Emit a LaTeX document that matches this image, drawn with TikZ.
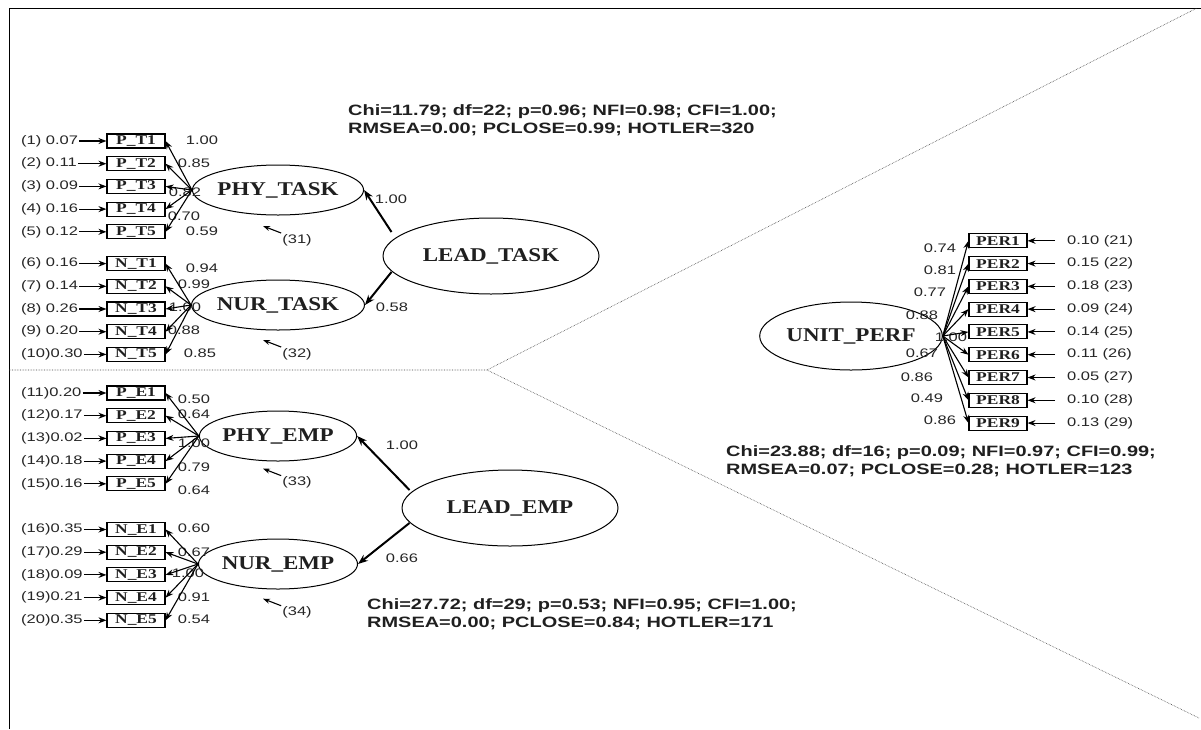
\documentclass[tikz,border=0pt]{standalone}
\usepackage{fontspec}
\usetikzlibrary{arrows.meta,shapes.geometric}
\newfontfamily\sfw[FakeStretch=1.33]{Liberation Sans}
\newfontfamily\sfwb[FakeStretch=1.33]{Liberation Sans Bold}
\newfontfamily\srw[FakeStretch=1.18]{Liberation Serif Bold}
\newfontfamily\srbox[FakeStretch=1.3]{Liberation Serif Bold}
\begin{document}
\begin{tikzpicture}[x=1pt,y=-1pt,
  lat/.style={ellipse,draw,line width=1pt,inner sep=0pt,font=\srw\fontsize{19.5}{21}\selectfont,text=black!88},
  small/.style={lat,minimum width=150pt,minimum height=50pt},
  big/.style={lat,minimum width=216pt,minimum height=76pt},
  obs/.style={draw,line width=1.1pt,minimum width=58pt,minimum height=14pt,inner sep=0pt,font=\srbox\fontsize{13.4}{14}\selectfont,text=black!88},
  lab/.style={font=\sfw\fontsize{12.4}{14}\selectfont,inner sep=1pt,text=black!85},
  fitt/.style={font=\sfwb\fontsize{15}{18.5}\selectfont,align=left,inner sep=0pt,text=black!88},
  ind/.style={-{Stealth[length=8pt,width=6pt]},line width=1.1pt},
  res/.style={-{Stealth[length=7pt,width=5pt]},line width=1.1pt},
  str/.style={-{Stealth[length=10pt,width=7.5pt]},line width=2pt},
  frame/.style={line width=1pt},
  sep/.style={densely dotted,line width=0.6pt,black!75}
]
\useasboundingbox (0,0) rectangle (1201,729);

% frame and separators
\coordinate (f1) at (9,729);
\coordinate (f2) at (9,8);
\coordinate (f3) at (1201,8);
\draw[frame] (f1) -- (f2) -- (f3);
\coordinate (m) at (487,370);
\coordinate (sl) at (9,370);
\coordinate (su) at (1197,8);
\coordinate (sd) at (1199,718);
\draw[sep] (sl) -- (m) -- (su);
\draw[sep] (m) -- (sd);

% latent variables
\node[small] (PT) at (278,190) {PHY\_TASK};
\node[small] (NT) at (278,305) {NUR\_TASK};
\node[small] (PE) at (278,436) {PHY\_EMP};
\node[small] (NE) at (278,564) {NUR\_EMP};
\node[big] (LT) at (491,256) {LEAD\_TASK};
\node[big] (LE) at (510,508) {LEAD\_EMP};
\node[lat,minimum width=164pt,minimum height=68pt] (UP) at (851,336) {UNIT\_PERF};

% left indicators
\foreach \nm/\txt/\y/\err in {
 pt1/P\_T1/141/{(1) 0.07}, pt2/P\_T2/163.7/{(2) 0.11}, pt3/P\_T3/186.4/{(3) 0.09},
 pt4/P\_T4/209.1/{(4) 0.16}, pt5/P\_T5/231.8/{(5) 0.12},
 nt1/N\_T1/263.6/{(6) 0.16}, nt2/N\_T2/286.3/{(7) 0.14}, nt3/N\_T3/309/{(8) 0.26},
 nt4/N\_T4/331.7/{(9) 0.20}, nt5/N\_T5/354.4/{(10)0.30},
 pe1/P\_E1/393/{(11)0.20}, pe2/P\_E2/415.7/{(12)0.17}, pe3/P\_E3/438.4/{(13)0.02},
 pe4/P\_E4/461.1/{(14)0.18}, pe5/P\_E5/483.8/{(15)0.16},
 ne1/N\_E1/529.5/{(16)0.35}, ne2/N\_E2/552.2/{(17)0.29}, ne3/N\_E3/574.9/{(18)0.09},
 ne4/N\_E4/597.6/{(19)0.21}, ne5/N\_E5/620.3/{(20)0.35}}
{
  \node[obs] (\nm) at (136,\y) {\txt};
  \node[lab,anchor=west] (e\nm) at (20,\y) {\err};
  \draw[ind] (e\nm) -- (\nm);
}

% right indicators
\foreach \i/\err in {1/{0.10 (21)},2/{0.15 (22)},3/{0.18 (23)},4/{0.09 (24)},5/{0.14 (25)},
  6/{0.11 (26)},7/{0.05 (27)},8/{0.10 (28)},9/{0.13 (29)}}
{
  \node[obs] (per\i) at (998,{240.8+22.78*(\i-1)}) {PER\i};
  \node[lab,anchor=west,inner xsep=12pt] (eper\i) at (1055,{240.8+22.78*(\i-1)}) {\err};
  \draw[ind] (eper\i) -- (per\i);
}

% loadings labels
\foreach \nm/\v/\x/\y in {
 pt1/1.00/202/140, pt2/0.85/194/163, pt3/0.82/185/192, pt4/0.70/184/216, pt5/0.59/202/231,
 nt1/0.94/202/268, nt2/0.99/194/284, nt3/1.00/185/307, nt4/0.88/184/330, nt5/0.85/200/353,
 pe1/0.50/194/399, pe2/0.64/194/414, pe3/1.00/194/443, pe4/0.79/194/467, pe5/0.64/194/490,
 ne1/0.60/194/528, ne2/0.67/194/552, ne3/1.00/188/573, ne4/0.91/194/597, ne5/0.54/194/619,
 per1/0.74/940/248, per2/0.81/940/270, per3/0.77/930/292, per4/0.88/922/315, per5/1.00/951/337,
 per6/0.67/922/353, per7/0.86/917/377, per8/0.49/927/398, per9/0.86/940/420}
{
  \node[lab] (l\nm) at (\x,\y) {\v};
}

% loading arrows
\foreach \nm in {pt1,pt2,pt3,pt4,pt5} {\draw[ind] (PT.west) -- (\nm.east);}
\foreach \nm in {nt1,nt2,nt3,nt4,nt5} {\draw[ind] (NT.west) -- (\nm.east);}
\foreach \nm in {pe1,pe2,pe3,pe4,pe5} {\draw[ind] (PE.west) -- (\nm.east);}
\foreach \nm in {ne1,ne2,ne3,ne4,ne5} {\draw[ind] (NE.west) -- (\nm.east);}
\foreach \i in {1,...,9} {\draw[ind] (UP.east) -- (per\i.west);}

% structural paths
\draw[str] ([shift={(9,-24)}]LT.west) -- (PT.east);
\draw[str] ([shift={(9,16)}]LT.west) -- (NT.east);
\draw[str] ([shift={(8,-18)}]LE.west) -- (PE.east);
\draw[str] ([shift={(8,15)}]LE.west) -- (NE.east);
\node[lab] (s1) at (391,199) {1.00};
\node[lab] (s2) at (392,307) {0.58};
\node[lab] (s3) at (402,445) {1.00};
\node[lab] (s4) at (402,558) {0.66};

% residuals of latent variables
\foreach \k/\y in {31/240,32/354,33/482.6,34/612.7}
{
  \node[lab] (r\k) at (297,\y) {(\k)};
  \coordinate (c\k) at (263,\y-14);
  \draw[res] (r\k.north west) -- (c\k);
}

% fit statistics
\node[fitt,anchor=north west] (fit1) at (348,104) {Chi=11.79; df=22; p=0.96; NFI=0.98; CFI=1.00;\\RMSEA=0.00; PCLOSE=0.99; HOTLER=320};
\node[fitt,anchor=north west] (fit2) at (726,445) {Chi=23.88; df=16; p=0.09; NFI=0.97; CFI=0.99;\\RMSEA=0.07; PCLOSE=0.28; HOTLER=123};
\node[fitt,anchor=north west] (fit3) at (367,598) {Chi=27.72; df=29; p=0.53; NFI=0.95; CFI=1.00;\\RMSEA=0.00; PCLOSE=0.84; HOTLER=171};
\end{tikzpicture}
\end{document}
